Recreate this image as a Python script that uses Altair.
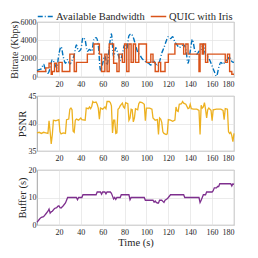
import altair as alt
import pandas as pd

FONT = "Liberation Serif"

# ---------------- data ----------------
bw_t = [0, 2, 4, 6, 8, 10, 12, 14, 16, 18, 20, 22, 24, 26, 28, 30, 32, 34, 36, 38,
        40, 42, 44, 46, 48, 50, 52, 54, 56, 58, 60, 62, 64, 66, 68, 70, 72, 74, 76, 78,
        80, 82, 84, 86, 88, 90, 92, 94, 96, 98, 100, 102, 104, 106, 108, 110, 112, 114, 116, 118,
        120, 122, 124, 126, 128, 130, 132, 134, 136, 138, 140, 142, 144, 146, 148, 150, 152, 154, 156, 158,
        160, 162, 164, 166, 168, 170, 172, 174, 176, 178, 180]
bw_v = [700, 800, 900, 1400, 600, 400, 1000, 1900, 1500, 1000, 2500, 3300, 2200, 1500, 1900, 1400, 1800, 2400, 3500, 2800,
        3000, 4300, 4000, 2800, 3000, 2800, 4100, 4300, 3500, 700, 1500, 2300, 1300, 3200, 4700, 2200, 3200, 2500, 1800, 2500,
        3500, 3000, 4500, 4700, 4300, 3500, 2700, 2400, 2000, 1800, 1600, 1500, 1300, 1800, 1500, 1200, 1700, 2600, 3200, 3900,
        4400, 4200, 4400, 3800, 3500, 3200, 3400, 3500, 3000, 1500, 2800, 4100, 3000, 2500, 2800, 3000, 3600, 2400, 2200, 1800,
        1200, 600, 100, 1000, 1600, 1400, 1700, 1900, 2200, 1700, 1600]

q_t = [0, 8, 11, 13, 14, 16, 18, 20, 23, 30, 34, 36, 46, 52, 57, 59, 62, 64, 66, 70,
       73, 75, 78, 80, 82, 84, 86, 88, 90, 93, 100, 104, 106, 108, 111, 113, 117, 120, 126, 134,
       136, 138, 148, 149, 151, 152, 154, 156, 172, 174, 176, 178, 180]
q_v = [600, 1000, 1500, 300, 600, 1500, 600, 1600, 600, 2500, 600, 1600, 2500, 3600, 2500, 600, 2500, 600, 3600, 1500,
       600, 2500, 1600, 3600, 600, 3600, 1600, 3600, 1600, 3600, 1600, 2500, 1600, 600, 1600, 600, 1600, 2500, 3600, 2500,
       3600, 2500, 600, 3600, 2500, 3600, 1600, 2500, 1600, 2500, 600, 300, 300]

psnr_t = [0, 2, 4, 6, 8, 10, 11, 12, 13, 14, 15, 17, 20, 21, 22, 24, 26, 27, 29, 30,
          31, 32, 33, 34, 35, 36, 38, 40, 41, 44, 45, 47, 48, 49, 50, 51, 52, 54, 55, 56,
          57, 58, 60, 62, 63, 64, 66, 67, 68, 69, 70, 71, 72, 73, 74, 75, 76, 78, 79, 80,
          81, 83, 84, 85, 86, 87, 88, 89, 90, 92, 93, 94, 96, 98, 99, 100, 103, 105, 106, 108,
          110, 111, 112, 113, 114, 115, 116, 118, 119, 120, 122, 124, 126, 127, 128, 129, 130, 132, 133, 134,
          136, 138, 139, 140, 141, 143, 146, 148, 149, 150, 151, 152, 153, 154, 155, 156, 157, 158, 159, 160,
          161, 164, 168, 170, 171, 172, 174, 175, 176, 177, 178, 179, 180]
psnr_v = [38.3, 38.4, 38.2, 38.4, 38.3, 38.2, 40.5, 38.5, 36.3, 38.0, 40.6, 40.5, 40.7, 38.5, 38.1, 38.3, 38.2, 40.7, 40.8, 42.6,
          42.8, 42.5, 38.6, 38.4, 40.6, 40.8, 40.6, 41.0, 40.7, 40.6, 42.8, 42.7, 43.0, 42.7, 43.1, 44.0, 43.8, 43.9, 43.5, 42.8,
          40.8, 42.8, 42.6, 43.0, 42.7, 44.0, 44.0, 43.8, 43.2, 38.3, 40.6, 40.6, 38.2, 38.3, 42.6, 42.8, 43.2, 43.7, 43.0, 42.8,
          43.8, 43.6, 40.6, 41.0, 42.6, 42.5, 40.3, 41.0, 42.7, 42.5, 43.6, 43.9, 43.8, 43.5, 40.5, 42.8, 42.8, 42.6, 41.0, 40.6,
          40.7, 38.0, 41.0, 40.8, 40.2, 38.5, 38.2, 38.0, 38.1, 40.7, 40.6, 40.4, 40.6, 43.0, 42.3, 42.2, 43.5, 43.6, 44.0, 43.7,
          43.5, 42.7, 42.8, 43.5, 42.7, 42.6, 42.6, 42.4, 38.0, 43.3, 42.8, 43.0, 43.8, 42.6, 41.0, 42.5, 42.8, 42.6, 42.4, 40.5,
          42.5, 42.6, 42.6, 42.4, 40.7, 42.7, 42.6, 38.5, 38.2, 38.4, 37.8, 36.7, 38.2]

buf_t = [0, 1, 2, 3, 4, 6, 7, 8, 10, 11, 12, 13, 14, 16, 18, 19, 20, 21, 22, 24,
         26, 27, 28, 36, 37, 38, 41, 42, 54, 55, 58, 59, 60, 62, 63, 64, 67, 68, 69, 70,
         71, 72, 73, 76, 77, 84, 85, 86, 98, 99, 106, 107, 108, 109, 110, 111, 112, 114, 115, 116,
         117, 119, 120, 122, 134, 135, 148, 149, 150, 151, 152, 154, 155, 160, 161, 162, 164, 165, 166, 167,
         177, 178, 179, 180]
buf_v = [1.0, 1.5, 2.0, 2.5, 2.8, 3.0, 3.5, 4.0, 5.0, 5.8, 4.3, 4.8, 5.0, 6.0, 6.3, 6.8, 7.0, 6.3, 6.2, 7.0,
         8.0, 9.0, 10.0, 10.0, 9.2, 10.0, 10.0, 11.0, 11.0, 12.0, 12.0, 11.2, 12.0, 12.0, 11.3, 12.0, 12.0, 11.5, 10.5, 9.5,
         10.0, 9.3, 10.0, 10.0, 11.0, 11.0, 9.2, 10.0, 10.0, 9.0, 9.0, 8.3, 8.7, 8.2, 8.0, 8.0, 9.0, 9.0, 8.6, 8.2,
         9.0, 9.5, 10.0, 11.0, 11.0, 10.0, 10.0, 8.2, 9.0, 10.0, 11.0, 11.0, 12.0, 12.0, 12.5, 13.5, 13.5, 14.0, 14.0, 15.0,
         15.0, 14.2, 15.0, 14.8]

series_names = ["Available Bandwidth", "QUIC with Iris"]
series_colors = ["#0072BD", "#D95319"]
series_dash = [[5, 2, 1, 2], [1, 0]]
x_ticks = [20, 40, 60, 80, 100, 120, 140, 160, 180]

# ---------------- frames ----------------
bw_df = pd.DataFrame({"t": bw_t, "v": bw_v, "series": series_names[0]})
q_df = pd.DataFrame({"t": q_t, "v": q_v, "series": series_names[1]})
psnr_df = pd.DataFrame({"t": psnr_t, "v": psnr_v})
buf_df = pd.DataFrame({"t": buf_t, "v": buf_v})

W, H = 197, 55


def x_enc(title=None):
    return alt.X(
        "t:Q",
        scale=alt.Scale(domain=[0, 180], nice=False),
        axis=alt.Axis(values=x_ticks, title=title, grid=True, ticks=False, domain=False,
                      labelPadding=3, titlePadding=1),
    )


color_enc = alt.Color(
    "series:N",
    scale=alt.Scale(domain=series_names, range=series_colors),
    legend=alt.Legend(
        title=None, orient="none", legendX=0, legendY=-14, direction="horizontal",
        symbolType="stroke", symbolStrokeWidth=1.5, symbolSize=240,
        labelFont=FONT, labelFontSize=10.5, labelColor="#262626", columnPadding=2,
        labelOffset=2, padding=0,
    ),
)
dash_enc = alt.StrokeDash(
    "series:N", scale=alt.Scale(domain=series_names, range=series_dash), legend=None
)

y1 = alt.Y(
    "v:Q",
    scale=alt.Scale(domain=[0, 6000], nice=False),
    axis=alt.Axis(values=[0, 2000, 4000, 6000], format="d", title="Bitrate (Kbps)",
                  titleFontSize=10, grid=True, ticks=False, domain=False,
                  labelPadding=1, titlePadding=1),
)

bw_line = alt.Chart(bw_df).mark_line(strokeWidth=1.4, interpolate="monotone").encode(
    x=x_enc(), y=y1, color=color_enc, strokeDash=dash_enc
)
q_line = alt.Chart(q_df).mark_line(strokeWidth=1.4, interpolate="step-after").encode(
    x=x_enc(), y=y1, color=color_enc, strokeDash=dash_enc
)
panel1 = alt.layer(bw_line, q_line).properties(width=W, height=H)

panel2 = alt.Chart(psnr_df).mark_line(strokeWidth=1.3, color="#EDB120").encode(
    x=x_enc(),
    y=alt.Y("v:Q", scale=alt.Scale(domain=[35, 45], nice=False),
            axis=alt.Axis(values=[35, 40, 45], title="PSNR", grid=True, ticks=False,
                          domain=False, labelPadding=1, titlePadding=1)),
).properties(width=W, height=H)

panel3 = alt.Chart(buf_df).mark_line(strokeWidth=1.3, color="#7E2F8E").encode(
    x=x_enc("Time (s)"),
    y=alt.Y("v:Q", scale=alt.Scale(domain=[0, 20], nice=False),
            axis=alt.Axis(values=[0, 10, 20], title="Buffer (s)", grid=True, ticks=False,
                          domain=False, labelPadding=1, titlePadding=1)),
).properties(width=W, height=H)

chart = alt.vconcat(panel1, panel2, panel3, spacing=2).properties(
    padding={"left": 0, "top": 0, "right": 0, "bottom": 0}
).configure(
    font=FONT,
).configure_view(
    stroke="#8a8a8a", strokeWidth=0.8,
).configure_axis(
    labelFont=FONT, labelFontSize=8, labelColor="#262626",
    titleFont=FONT, titleFontSize=10.5, titleFontWeight="normal", titleColor="#262626",
    gridColor="#e3e3e3", gridWidth=0.7,
)

chart.save("out.html", embed_options={"renderer": "svg", "actions": False})
